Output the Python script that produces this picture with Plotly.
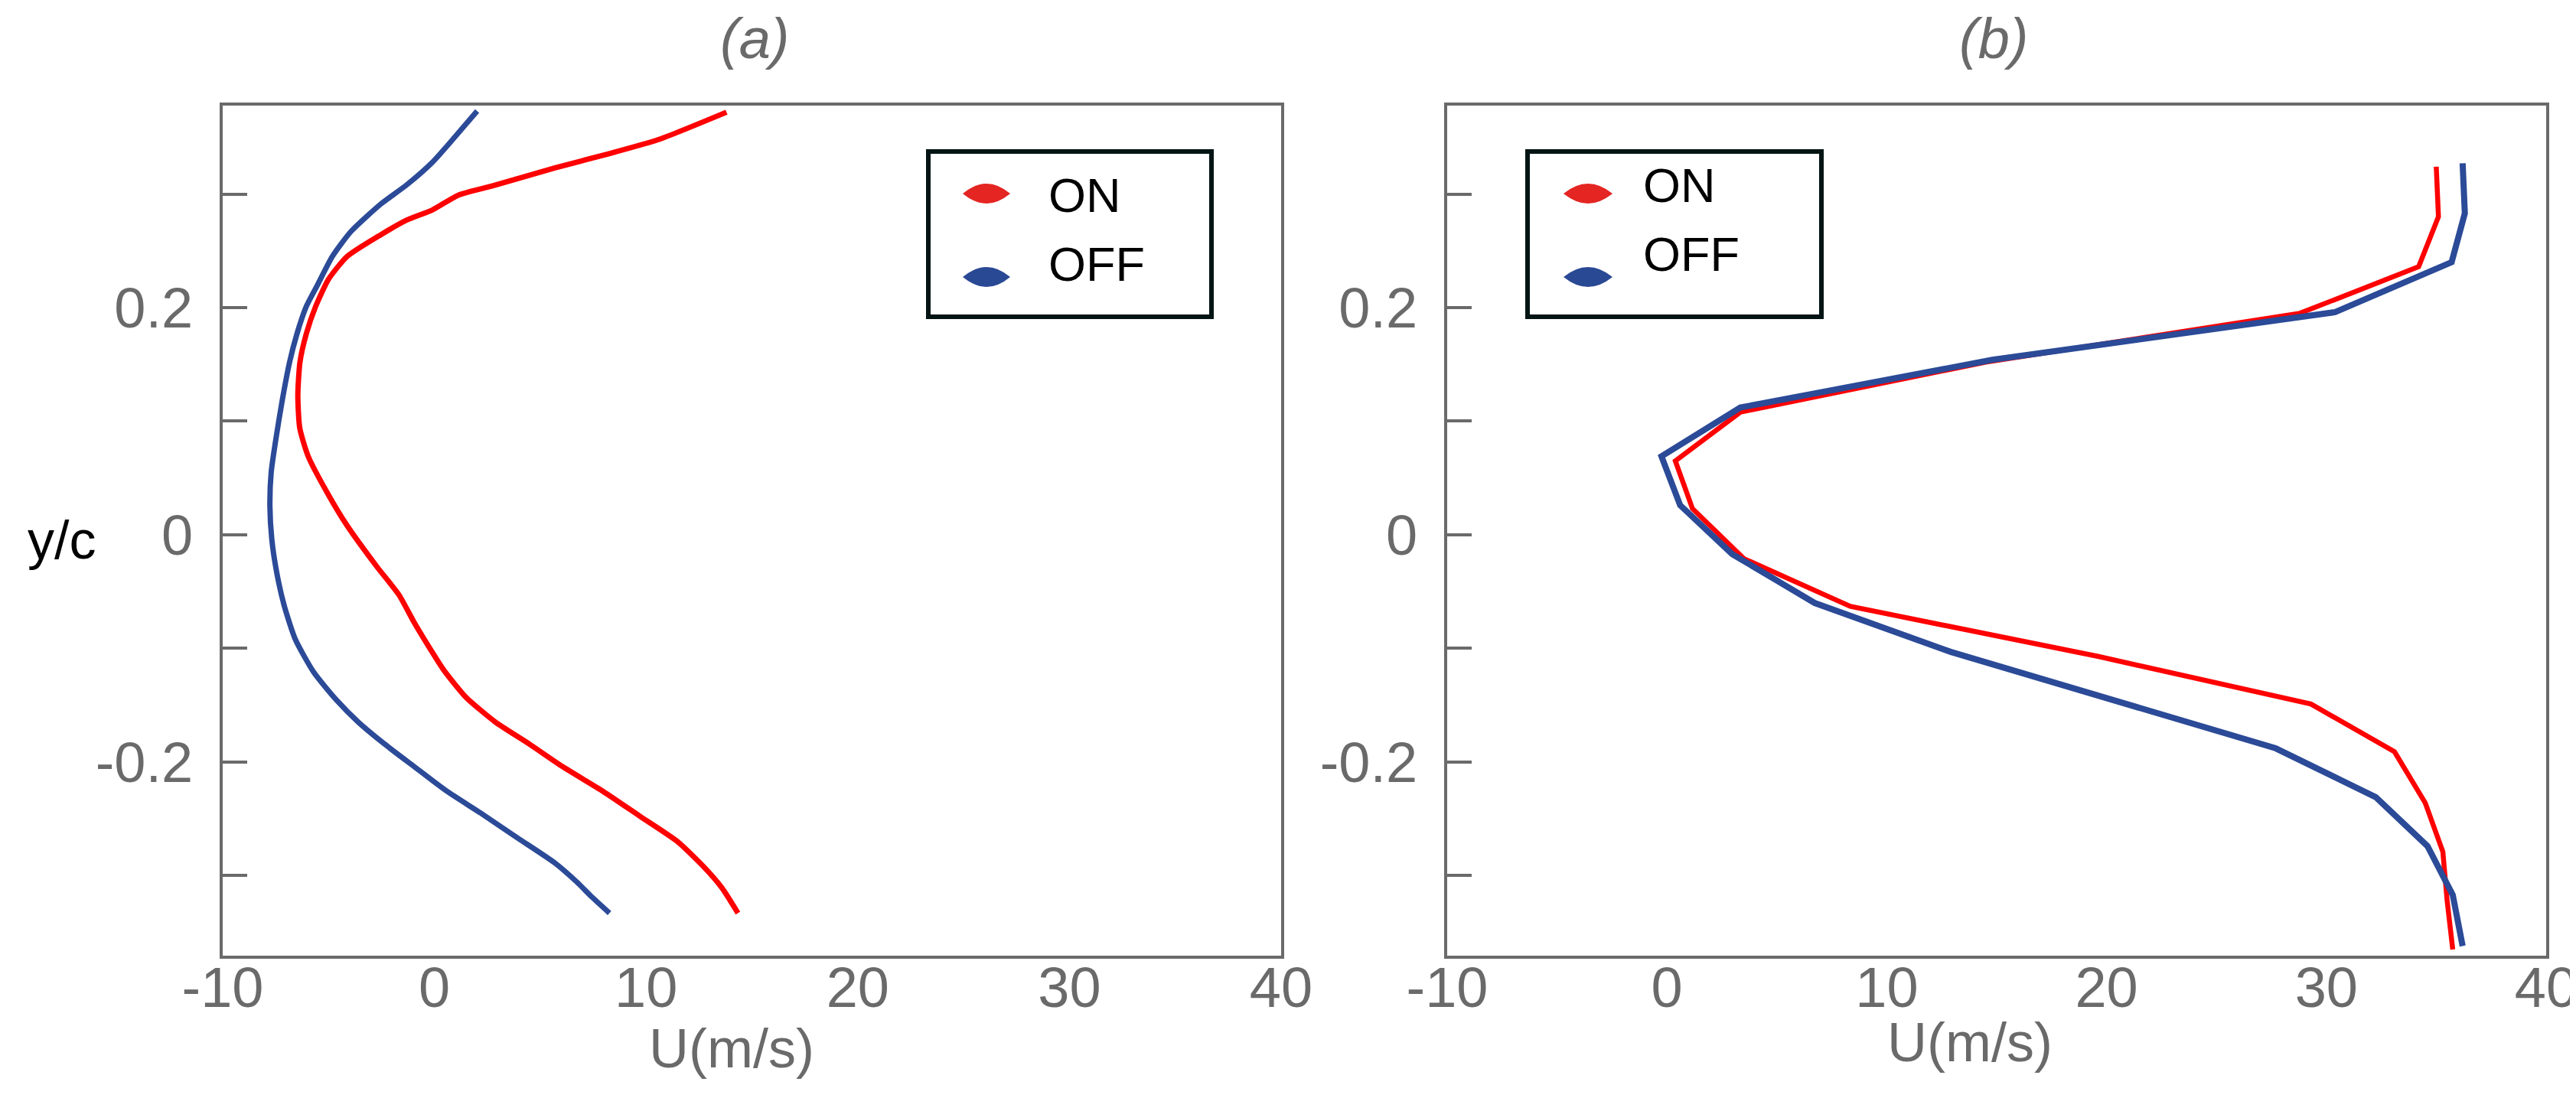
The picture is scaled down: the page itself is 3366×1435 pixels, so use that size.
# dependencies
import plotly.graph_objects as go	# plots

# panel (a): smooth profiles
a_on_u = [13.8, 10.6, 8.15, 5.7, 2.72, 1.14, -0.09, -1.31, -2.54, -4.12, -5.0, -5.61, -6.05, -6.35, -6.45, -6.36, -5.96, -5.0, -4.12, -2.72, -1.67, -0.96, -0.18, 0.44, 1.49, 2.89, 4.47, 6.05, 7.98, 9.73, 11.48, 12.71, 13.59, 14.34]
a_on_y = [0.372, 0.348, 0.335, 0.323, 0.307, 0.299, 0.286, 0.277, 0.264, 0.245, 0.225, 0.201, 0.177, 0.152, 0.123, 0.094, 0.069, 0.035, 0.008, -0.028, -0.053, -0.077, -0.101, -0.119, -0.143, -0.165, -0.184, -0.204, -0.226, -0.248, -0.270, -0.292, -0.311, -0.333]
a_off_u = [2.02, 0.96, -0.09, -1.31, -2.54, -3.94, -4.82, -5.52, -6.05, -6.49, -6.84, -7.19, -7.49, -7.71, -7.77, -7.68, -7.45, -7.10, -6.57, -5.70, -4.65, -3.59, -2.37, -0.96, 0.61, 2.19, 3.94, 5.70, 6.75, 7.45, 8.27]
a_off_y = [0.373, 0.350, 0.328, 0.308, 0.291, 0.267, 0.245, 0.220, 0.201, 0.177, 0.152, 0.118, 0.084, 0.055, 0.025, -0.004, -0.033, -0.062, -0.092, -0.121, -0.145, -0.165, -0.184, -0.204, -0.226, -0.245, -0.267, -0.289, -0.306, -0.319, -0.333]

# panel (b): measured points joined by straight lines
b_on_u = [35.0, 35.1, 34.2, 28.8, 14.5, 3.34, 0.38, 1.16, 3.5, 8.34, 19.6, 29.3, 33.1, 34.5, 35.3, 35.5, 35.75]
b_on_y = [0.324, 0.280, 0.236, 0.195, 0.152, 0.108, 0.065, 0.023, -0.021, -0.063, -0.107, -0.149, -0.191, -0.236, -0.279, -0.323, -0.365]
b_off_u = [36.2, 36.3, 35.7, 30.4, 14.8, 3.34, -0.25, 0.6, 2.97, 6.72, 12.9, 20.4, 27.7, 32.25, 34.6, 35.75, 36.2]
b_off_y = [0.327, 0.283, 0.240, 0.196, 0.154, 0.112, 0.069, 0.026, -0.017, -0.060, -0.103, -0.146, -0.188, -0.231, -0.274, -0.317, -0.362]

# axis ticks
x_label_vals = [-10, 0, 10, 20, 30, 40]
x_label_text = ['-10', '0', '10', '20', '30', '40']
a_short_ticks = [-5, 5, 10, 25, 30, 35]
a_long_ticks = [0, 20]
b_short_ticks = [-5, 5, 10, 15, 30, 35]
b_long_ticks = [20]
y_tick_vals = [-0.3, -0.2, -0.1, 0, 0.1, 0.2, 0.3]
y_tick_text = ['', '-0.2', '', '0', '', '0.2', '']
series_names = ['ON', 'OFF']

# styling
W, H = 3366, 1435
GREY = '#6a6a6a'
RED = '#ff0000'
BLUE = '#2b4a97'
LENS_COLORS = ['#e42522', '#2a4994']
FONT = 'Liberation Sans, Arial, sans-serif'
X_RANGE = [-10, 40]
Y_RANGE = [-0.3705, 0.3778]


def px(x):
	return x / W


def py(y):
	return 1 - y / H


# panel pixel boxes
dom_a = [px(283), px(1666)]
dom_b = [px(1883), px(3319)]
dom_y = [py(1241), py(130)]

# create figure
fig = go.Figure()
fig.add_trace(go.Scatter(x=a_on_u, y=a_on_y, mode='lines', line={'color': RED, 'width': 7, 'shape': 'spline', 'smoothing': 0.6}, xaxis='x', yaxis='y', showlegend=False))
fig.add_trace(go.Scatter(x=a_off_u, y=a_off_y, mode='lines', line={'color': BLUE, 'width': 7, 'shape': 'spline', 'smoothing': 0.6}, xaxis='x', yaxis='y', showlegend=False))
fig.add_trace(go.Scatter(x=b_on_u, y=b_on_y, mode='lines', line={'color': RED, 'width': 6.5}, xaxis='x2', yaxis='y2', showlegend=False))
fig.add_trace(go.Scatter(x=b_off_u, y=b_off_y, mode='lines', line={'color': BLUE, 'width': 8}, xaxis='x2', yaxis='y2', showlegend=False))

tick_font = {'family': FONT, 'size': 74, 'color': GREY}
base_x = {
	'range': X_RANGE, 'showgrid': False, 'zeroline': False, 'automargin': False,
	'showline': True, 'linecolor': GREY, 'linewidth': 4, 'mirror': True,
	'ticks': '', 'tickvals': x_label_vals, 'ticktext': x_label_text,
	'tickfont': tick_font, 'ticklabelstandoff': -26,
}
base_y = {
	'range': Y_RANGE, 'domain': dom_y, 'showgrid': False, 'zeroline': False, 'automargin': False,
	'showline': True, 'linecolor': GREY, 'linewidth': 4, 'mirror': True,
	'ticks': 'inside', 'ticklen': 32, 'tickwidth': 4, 'tickcolor': GREY,
	'tickvals': y_tick_vals, 'ticktext': y_tick_text,
	'tickfont': tick_font, 'ticklabelstandoff': 20,
}


def tick_axis(over, anchor, vals, length, width):
	return {
		'overlaying': over, 'anchor': anchor, 'range': X_RANGE if over.startswith('x') else Y_RANGE,
		'showgrid': False, 'zeroline': False, 'showline': False, 'showticklabels': False, 'automargin': False,
		'ticks': 'inside', 'tickvals': vals, 'ticklen': length, 'tickwidth': width,
		'tickcolor': GREY, 'mirror': 'ticks' if over.startswith('x') else False,
	}


fig.update_layout(
	width=W, height=H,
	margin={'l': 0, 'r': 0, 't': 0, 'b': 0, 'pad': 0},
	paper_bgcolor='white', plot_bgcolor='white',
	showlegend=False,
	xaxis={**base_x, 'domain': dom_a, 'anchor': 'y'},
	yaxis={**base_y, 'anchor': 'x'},
	xaxis2={**base_x, 'domain': dom_b, 'anchor': 'y2'},
	yaxis2={**base_y, 'anchor': 'x2'},
	xaxis3=tick_axis('x', 'y', a_short_ticks, 8, 2),
	xaxis5=tick_axis('x', 'y', a_long_ticks, 16, 2),
	xaxis4=tick_axis('x2', 'y2', b_short_ticks, 8, 2),
	xaxis6=tick_axis('x2', 'y2', b_long_ticks, 16, 2),
	yaxis3=tick_axis('y', 'x', [0], 45, 4),
	yaxis4=tick_axis('y2', 'x2', [0], 45, 4),
)

# titles and axis labels
labels = [
	('(a)', 978, 42, 74, GREY, 'italic'),
	('(b)', 2597, 42, 74, GREY, 'italic'),
	('U(m/s)', 948, 1362, 72, GREY, 'normal'),
	('U(m/s)', 2566, 1354, 72, GREY, 'normal'),
	('y/c', 72, 698, 70, 'black', 'normal'),
]
for text, x, y, size, color, style in labels:
	fig.add_annotation(
		text=text, x=px(x), y=py(y), xref='paper', yref='paper',
		xanchor='center', yanchor='middle', showarrow=False,
		font={'family': FONT, 'size': size, 'color': color, 'style': style},
	)

# hand-drawn legends (box, lens markers, labels)
legends = [
	{'box': (1202, 187, 1578, 409), 'lens_x': 1281, 'lens_y': [245, 354], 'lens_w': 62, 'text_x': 1360, 'text_y': [247, 337]},
	{'box': (1985, 187, 2375, 409), 'lens_x': 2067, 'lens_y': [245, 354], 'lens_w': 64, 'text_x': 2137, 'text_y': [234, 324]},
]
for leg in legends:
	x0, y0, x1, y1 = leg['box']
	fig.add_shape(
		type='rect', xref='paper', yref='paper',
		x0=px(x0 + 3), x1=px(x1 - 3), y0=py(y0 + 3), y1=py(y1 - 3),
		line={'color': '#021414', 'width': 6}, fillcolor='white', layer='above',
	)
	half = leg['lens_w'] / 2
	for name, color, ly, ty in zip(series_names, LENS_COLORS, leg['lens_y'], leg['text_y']):
		fig.add_shape(
			type='path', xref='paper', yref='paper',
			xsizemode='pixel', ysizemode='pixel', xanchor=px(leg['lens_x']), yanchor=py(ly),
			path=f'M {-half},0 Q 0,26 {half},0 Q 0,-26 {-half},0 Z',
			fillcolor=color, line={'width': 0}, layer='above',
		)
		fig.add_annotation(
			text=name, x=px(leg['text_x']), y=py(ty), xref='paper', yref='paper',
			xanchor='left', yanchor='middle', showarrow=False,
			font={'family': FONT, 'size': 63, 'color': 'black'},
		)

fig.write_html('out.html')
